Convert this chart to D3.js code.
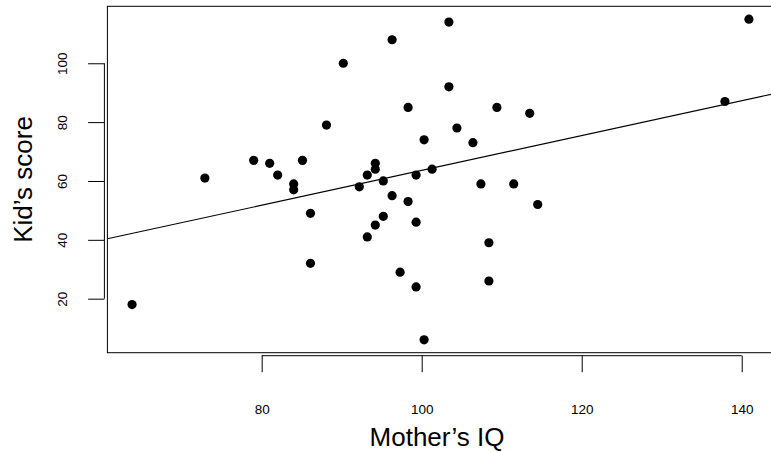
<!DOCTYPE html>
<html>
<head>
<meta charset="utf-8">
<script src="https://cdn.jsdelivr.net/npm/d3@7/dist/d3.min.js"></script>
<style>
  html, body { margin: 0; padding: 0; background: #fff; }
  svg { display: block; }
  text { font-family: "Liberation Sans", Arial, sans-serif; fill: #000; }
</style>
</head>
<body>
<svg id="chart" width="771" height="452"></svg>
<script>
// Mother's IQ vs. kid's test score
const momIQ = [63.8, 72.9, 79.0, 81.0, 82.0, 84.0, 84.0, 85.1, 86.1, 86.1, 88.1,
  90.2, 92.2, 93.2, 93.2, 94.2, 94.2, 94.2, 95.2, 95.2, 96.3, 96.3, 97.3, 98.3,
  98.3, 99.3, 99.3, 99.3, 100.3, 100.3, 101.3, 103.4, 103.4, 104.4, 106.4, 107.4,
  108.4, 108.4, 109.4, 111.5, 113.5, 114.5, 137.9, 140.9];
const kidScore = [18, 61, 67, 66, 62, 59, 57, 67, 49, 32, 79,
  100, 58, 62, 41, 66, 64, 45, 60, 48, 108, 55, 29, 85,
  53, 62, 46, 24, 74, 6, 64, 114, 92, 78, 73, 59,
  39, 26, 85, 59, 83, 52, 87, 115];
const xTicks = [80, 100, 120, 140];
const yTicks = [20, 40, 60, 80, 100];
// fitted line: score = intercept + slope * IQ
const fitIntercept = 4.4;
const fitSlope = 0.592;

const points = momIQ.map((x, i) => ({ x, y: kidScore[i] }));

const svg = d3.select("#chart");
const plot = { left: 107.4, right: 773.6, top: 6.3, bottom: 352.7 };

// extend data range by 4% on each side
function padded(ext) {
  const d = (ext[1] - ext[0]) * 0.04;
  return [ext[0] - d, ext[1] + d];
}
const x = d3.scaleLinear().domain(padded(d3.extent(momIQ))).range([plot.left, plot.right]);
const y = d3.scaleLinear().domain(padded(d3.extent(kidScore))).range([plot.bottom, plot.top]);

// clip for plot region
svg.append("defs").append("clipPath").attr("id", "plotclip")
  .append("rect")
  .attr("x", plot.left).attr("y", plot.top)
  .attr("width", plot.right - plot.left).attr("height", plot.bottom - plot.top);

// frame
svg.append("rect")
  .attr("x", plot.left).attr("y", plot.top)
  .attr("width", plot.right - plot.left).attr("height", plot.bottom - plot.top)
  .attr("fill", "none").attr("stroke", "#000").attr("stroke-width", 1);

// x axis (line spans first to last tick)
const xAxis = d3.axisBottom(x).tickValues(xTicks).tickSizeInner(16.5).tickSizeOuter(0).tickPadding(0);
const gx = svg.append("g").attr("transform", `translate(0,${plot.bottom + 3})`).call(xAxis);
gx.select(".domain").remove();
gx.append("line")
  .attr("x1", x(xTicks[0])).attr("x2", x(xTicks[xTicks.length - 1]))
  .attr("stroke", "#000");
gx.selectAll(".tick line").attr("stroke", "#000");
gx.selectAll(".tick text")
  .attr("y", 58.3).attr("dy", null)
  .style("font-family", "'Liberation Sans', Arial, sans-serif")
  .style("font-size", "13.5px").attr("fill", "#222");

// y axis
const yAxis = d3.axisLeft(y).tickValues(yTicks).tickSizeInner(16.3).tickSizeOuter(0).tickPadding(0);
const gy = svg.append("g").attr("transform", `translate(${plot.left - 3},0)`).call(yAxis);
gy.select(".domain").remove();
gy.append("line")
  .attr("y1", y(yTicks[0])).attr("y2", y(yTicks[yTicks.length - 1]))
  .attr("stroke", "#000");
gy.selectAll(".tick line").attr("stroke", "#000");
gy.selectAll(".tick text")
  .attr("x", null).attr("dy", null)
  .attr("text-anchor", "middle")
  .attr("transform", "translate(-37.5,0) rotate(-90)")
  .style("font-family", "'Liberation Sans', Arial, sans-serif")
  .style("font-size", "13.5px").attr("fill", "#222");

// regression line across the plot region
const xd = x.domain();
svg.append("line")
  .attr("clip-path", "url(#plotclip)")
  .attr("x1", x(xd[0])).attr("y1", y(fitIntercept + fitSlope * xd[0]))
  .attr("x2", x(xd[1])).attr("y2", y(fitIntercept + fitSlope * xd[1]))
  .attr("stroke", "#000").attr("stroke-width", 1.1);

// points
svg.append("g").selectAll("circle").data(points).join("circle")
  .attr("cx", d => x(d.x)).attr("cy", d => y(d.y))
  .attr("r", 4.6).attr("fill", "#000");

// axis titles
svg.append("text")
  .attr("x", 437).attr("y", 446)
  .attr("text-anchor", "middle")
  .style("font-size", "26px")
  .text("Mother’s IQ");

svg.append("text")
  .attr("transform", `translate(32,${(plot.top + plot.bottom) / 2}) rotate(-90)`)
  .attr("text-anchor", "middle")
  .style("font-size", "26px")
  .text("Kid’s score");
</script>
</body>
</html>
